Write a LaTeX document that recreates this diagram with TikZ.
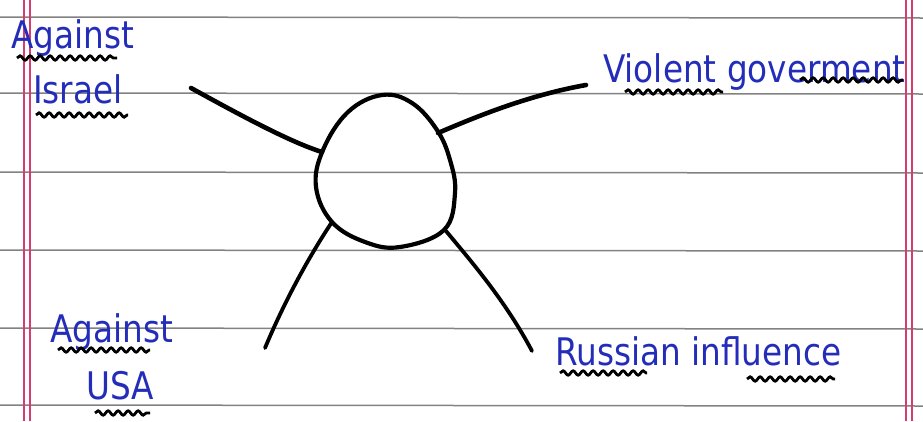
\documentclass[tikz,border=0pt]{standalone}
\usepackage{fontspec}
\newfontfamily\hand[FakeStretch=0.86]{DejaVu Sans}
\usetikzlibrary{decorations.pathmorphing}
\definecolor{ink}{RGB}{35,45,185}
\definecolor{rulegray}{RGB}{130,130,130}
\definecolor{marginred}{RGB}{215,60,110}
\begin{document}
\begin{tikzpicture}[x=1pt,y=-1pt,
  lbl/.style={font=\hand\fontsize{38}{40}\selectfont, text=ink, inner sep=0pt, anchor=base west},
  wave/.style={draw=black, line width=2.8pt, decorate, decoration={snake, amplitude=2.2pt, segment length=10pt}},
  arm/.style={draw=black, line width=4.6pt, line cap=round},
  ruled/.style={draw=rulegray, line width=1.5pt},
  redline/.style={draw=marginred, line width=1.1pt}]
\useasboundingbox[fill=white] (0,0) rectangle (923,421);
% ruled paper
\foreach \yy in {17,93,172,250,328,405}
  \draw[ruled] (0,\yy) -- (923,\yy+1);
\foreach \xx in {24,30,906,912}
  \draw[redline] (\xx,0) -- (\xx,421);
% central egg
\draw[black, line width=4.2pt] plot[smooth cycle, tension=0.65] coordinates
  {(382,95) (348,112) (323,150) (316,187) (332,222) (365,242) (400,247) (444,230) (455,193) (450,160) (437,130) (412,103)};
\coordinate (eUL) at (322,152);
\coordinate (eUR) at (438,133);
\coordinate (eLL) at (332,222);
\coordinate (eLR) at (446,231);
\coordinate (tUL) at (191,88);
\coordinate (tUR) at (586,85);
\coordinate (tLL) at (265,348);
\coordinate (tLR) at (532,351);
% arms
\draw[arm] (eUL) .. controls (290,142) and (240,115) .. (tUL);
\draw[arm] (eUR) .. controls (480,115) and (530,95) .. (tUR);
\draw[arm, line width=3.8pt] (eLL) .. controls (310,255) and (285,300) .. (tLL);
\draw[arm, line width=3.8pt] (eLR) .. controls (470,260) and (505,300) .. (tLR);
% labels
\node[lbl] (ag1) at (11,48) {Against};
\node[lbl] (isr) at (33,103) {Israel};
\node[lbl] (vio) at (603,82) {Violent goverment};
\node[lbl] (ag2) at (50,342) {Against};
\node[lbl] (usa) at (86,399) {USA};
\node[lbl] (rus) at (555,365) {Russian influence};
% wavy underlines
\draw[wave] (17,58) -- (117,58);
\draw[wave] (36,115) -- (128,115);
\draw[wave] (625,92) -- (723,92);
\draw[wave] (800,80) -- (903,80);
\draw[wave] (58,350) -- (150,350);
\draw[wave] (95,413) -- (150,413);
\draw[wave] (560,373) -- (647,373);
\draw[wave] (747,379) -- (835,379);
\end{tikzpicture}
\end{document}
